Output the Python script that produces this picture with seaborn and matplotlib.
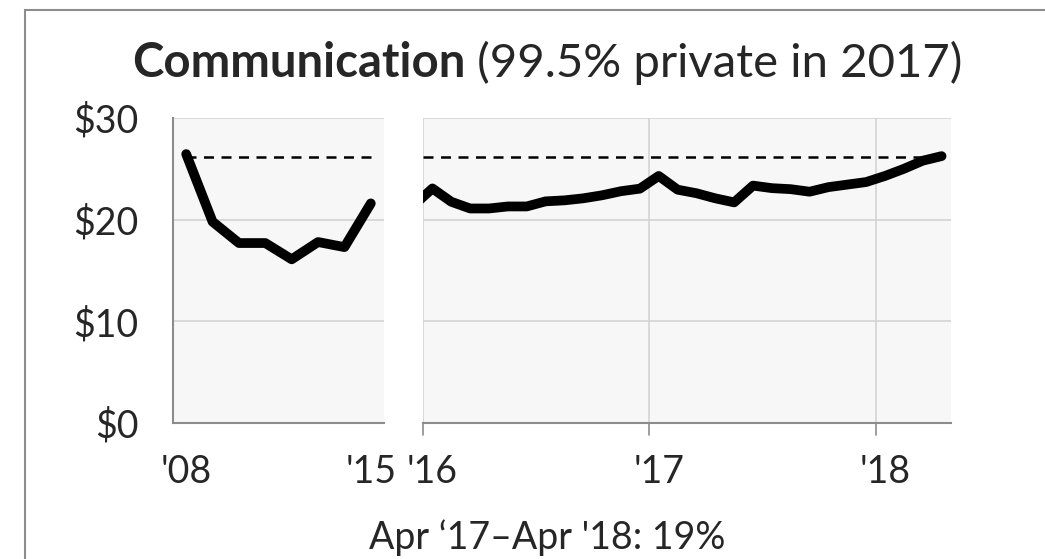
import numpy as np
import pandas as pd
import seaborn as sns
import matplotlib.pyplot as plt
from matplotlib.lines import Line2D
from matplotlib.transforms import blended_transform_factory

# ------------------------------ DONNEES ------------------------------
# annuel 2008-2015 (milliards $)
annees = [2008, 2009, 2010, 2011, 2012, 2013, 2014, 2015]
depenses_annuelles = [26.45, 19.8, 17.7, 17.7, 16.1, 17.8, 17.3, 21.6]

# mensuel dec 2015 - avr 2018 (dec 2015 coupe par le bord gauche)
mois = pd.date_range("2015-12-01", "2018-04-01", freq="MS")
depenses_mensuelles = [21.4,
                       23.07, 21.76, 21.1, 21.1, 21.3, 21.3, 21.8, 21.9, 22.1, 22.4, 22.8, 23.05,
                       24.3, 22.95, 22.6, 22.1, 21.7, 23.35, 23.1, 23.0, 22.75, 23.2, 23.45, 23.7,
                       24.3, 25.0, 25.8, 26.25]

niveau_ref = 26.2  # niveau avr 2018, ligne pointillee
yticks = [0, 10, 20, 30]
ytick_labels = ["$0", "$10", "$20", "$30"]
labels_gauche = {2008: "'08", 2015: "'15"}
labels_droite = ["'16", "'17", "'18"]

titre_gras = "Communication"
titre_normal = "(99.5% private in 2017)"
note_bas = "Apr \u201817\u2013Apr '18: 19%"

# ------------------------------ STYLE ------------------------------
sns.set_style("white")
plt.rcParams['font.family'] = ['Lato', 'DejaVu Sans']

fond = "#F7F7F7"
grille = "#D4D4D4"
axe = "#8C8C8C"
fs_ticks = 27

fig = plt.figure(figsize=(10.45, 5.59), dpi=100)
W, H = 1045, 559

def px_axes(x0, y0, x1, y1):
    return fig.add_axes([x0 / W, 1 - y1 / H, (x1 - x0) / W, (y1 - y0) / H])

ax0 = px_axes(173, 118, 384, 423)
ax1 = px_axes(423, 118, 951, 423)

# positions : annee i au centre de [i-0.5, i+0.5] ; mois m au centre de [m, m+1]
df0 = pd.DataFrame({"x": np.arange(len(annees)), "val": depenses_annuelles})
m_idx = [(d.year - 2016) * 12 + d.month - 1 + 0.5 for d in mois]
df1 = pd.DataFrame({"x": m_idx, "val": depenses_mensuelles})

for ax in (ax0, ax1):
    ax.set_facecolor(fond)
    ax.set_ylim(0, 30)
    ax.set_yticks(yticks)
    for v in yticks[1:]:
        ax.axhline(v, color=grille, lw=1.2, zorder=0)
    for s in ("top", "right"):
        ax.spines[s].set_visible(False)
    ax.spines["bottom"].set_color(axe)
    ax.spines["bottom"].set_linewidth(1.5)

# panneau gauche
sns.lineplot(data=df0, x="x", y="val", ax=ax0, color="black", lw=7,
             solid_joinstyle="round", solid_capstyle="round", zorder=3)
ax0.hlines(niveau_ref, 0, len(annees) - 1, colors="black", linestyles=(0, (4, 3)), lw=1.8, zorder=2)
ax0.set_xlim(-0.5, len(annees) - 0.5)
ax0.set_xticks([annees.index(a) for a in labels_gauche])
ax0.set_xticklabels(list(labels_gauche.values()), fontsize=fs_ticks)
ax0.set_xticks(np.arange(0.5, len(annees), 1), minor=True)
ax0.tick_params(axis="x", which="major", length=0, pad=22)
ax0.tick_params(axis="x", which="minor", direction="in", length=7.5, width=1.2, color=axe)
ax0.set_yticklabels(ytick_labels, fontsize=fs_ticks)
ax0.tick_params(axis="y", direction="out", length=9, width=1.2, color=axe, pad=16)
ax0.spines["left"].set_color(axe)
ax0.spines["left"].set_linewidth(1.5)
ax0.set_xlabel("")
ax0.set_ylabel("")

# panneau droit
sns.lineplot(data=df1, x="x", y="val", ax=ax1, color="black", lw=7,
             solid_joinstyle="round", solid_capstyle="round", zorder=3)
ax1.set_xlim(0, 28)
ax1.hlines(niveau_ref, 0, m_idx[-1], colors="black", linestyles=(0, (4, 3)), lw=1.8, zorder=2)
ax1.spines["left"].set_visible(False)
ax1.set_yticklabels([])
ax1.tick_params(axis="y", length=0)
ax1.set_xticks([0.5, 12.5, 24.5])
ax1.set_xticklabels(labels_droite, fontsize=fs_ticks)
ax1.set_xticks(np.arange(1, 29, 1), minor=True)
ax1.tick_params(axis="x", which="major", length=0, pad=22)
ax1.tick_params(axis="x", which="minor", direction="in", length=7.5, width=1.2, color=axe)
trans = blended_transform_factory(ax1.transData, ax1.transAxes)
for xb in (0, 12, 24):
    ax1.plot([xb, xb], [0, 1], transform=trans, color=grille, lw=1.2, zorder=0)
    ax1.plot([xb, xb], [-0.04, 0], transform=trans, color=axe, lw=1.2, clip_on=False)
ax1.set_xlabel("")
ax1.set_ylabel("")

# cadre gris (bords gauche et haut)
fig.add_artist(Line2D([25 / W, 25 / W], [0, 1 - 9.5 / H], color=axe, lw=1.5))
fig.add_artist(Line2D([25 / W, 1], [1 - 9.5 / H, 1 - 9.5 / H], color=axe, lw=1.5))

# titre en deux morceaux (gras + normal)
fs_titre = 34
y_titre = 1 - 63 / H
t1 = fig.text(0, y_titre, titre_gras, fontsize=fs_titre, fontweight="bold", va="center")
t2 = fig.text(0, y_titre, " " + titre_normal, fontsize=fs_titre, va="center")
rend = fig.canvas.get_renderer()
w1 = t1.get_window_extent(rend).width
w2 = t2.get_window_extent(rend).width
x0 = 547 - (w1 + w2) / 2
t1.set_x(x0 / W)
t2.set_x((x0 + w1) / W)

fig.text(547 / W, 1 - 549 / H, note_bas, fontsize=27, ha="center", va="baseline")

fig.savefig("out.png", dpi=100)
